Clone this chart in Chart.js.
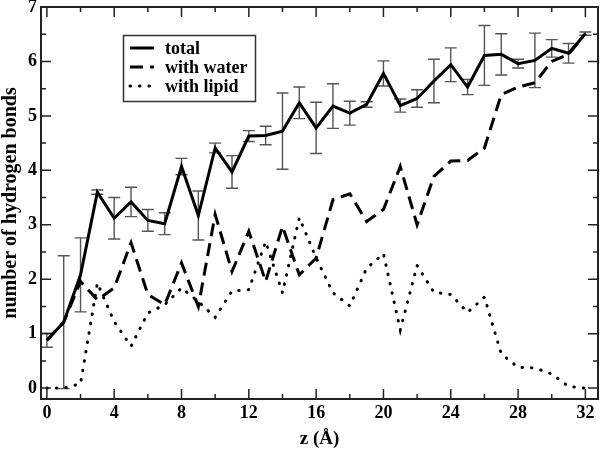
<!DOCTYPE html>
<html>
<head>
<meta charset="utf-8">
<script src="https://cdn.jsdelivr.net/npm/chart.js@4.4.0/dist/chart.umd.min.js"></script>
<style>
  html, body { margin: 0; padding: 0; background: #fff; }
  canvas { display: block; }
</style>
</head>
<body>
<canvas id="hbond-chart" width="600" height="449"></canvas>
<script>
// z positions (Å)
const zValues = [0, 1, 2, 3, 4, 5, 6, 7, 8, 9, 10, 11, 12, 13, 14, 15, 16,
    17, 18, 19, 20, 21, 22, 23, 24, 25, 26, 27, 28, 29, 30, 31, 32];

// total hydrogen bonds and its error bar half-width
const totalBonds = [0.88, 1.21, 2.08, 3.6, 3.12, 3.42, 3.08, 3.02, 4.07, 3.17, 4.41,
    3.97, 4.63, 4.64, 4.72, 5.24, 4.78, 5.18, 5.05, 5.21, 5.78, 5.19, 5.32, 5.64,
    5.94, 5.53, 6.11, 6.13, 5.96, 6.02, 6.24, 6.15, 6.51];
const totalErr = [0.13, 1.22, 0.68, 0.04, 0.38, 0.27, 0.2, 0.2, 0.15, 0.45, 0.09,
    0.3, 0.1, 0.17, 0.7, 0.29, 0.47, 0.41, 0.22, 0.05, 0.23, 0.12, 0.16, 0.4,
    0.31, 0.14, 0.55, 0.38, 0.08, 0.5, 0.16, 0.18, 0.03];

// bonds with water
const waterBonds = [0.88, 1.21, 1.96, 1.62, 1.84, 2.67, 1.72, 1.53, 2.3, 1.5, 3.19,
    2.14, 2.88, 1.96, 2.97, 2.08, 2.39, 3.46, 3.57, 3.06, 3.28, 4.07, 3.0, 3.89,
    4.17, 4.18, 4.41, 5.39, 5.53, 5.61, 6.0, 6.13, 6.51];

// bonds with lipid
const lipidBonds = [0, 0, 0.08, 1.93, 1.22, 0.77, 1.38, 1.53, 1.84, 1.59, 1.3,
    1.78, 1.81, 2.69, 1.75, 3.13, 2.39, 1.75, 1.51, 2.2, 2.47, 1.07, 2.25, 1.76,
    1.72, 1.39, 1.67, 0.63, 0.38, 0.37, 0.26, 0.03, 0];

// axis ticks
const xTickValues = [0, 4, 8, 12, 16, 20, 24, 28, 32];
const xMinorTicks = [2, 6, 10, 14, 18, 22, 26, 30];
const yTickValues = [0, 1, 2, 3, 4, 5, 6, 7];
const yMinorTicks = [0.5, 1.5, 2.5, 3.5, 4.5, 5.5, 6.5];

const serif = '"Liberation Serif", "Times New Roman", serif';

const toPoints = (values) => values.map((v, i) => ({ x: zValues[i], y: v }));

// error bars on the total series
const errorBars = {
    id: "errorBars",
    beforeDatasetsDraw(chart) {
        const { ctx, scales: { x, y } } = chart;
        ctx.save();
        ctx.strokeStyle = "#555";
        ctx.lineWidth = 1.4;
        ctx.beginPath();
        zValues.forEach((z, i) => {
            const px = x.getPixelForValue(z);
            const top = y.getPixelForValue(totalBonds[i] + totalErr[i]);
            const bot = y.getPixelForValue(totalBonds[i] - totalErr[i]);
            ctx.moveTo(px, top);
            ctx.lineTo(px, bot);
            ctx.moveTo(px - 6, top);
            ctx.lineTo(px + 6, top);
            ctx.moveTo(px - 6, bot);
            ctx.lineTo(px + 6, bot);
        });
        ctx.stroke();
        ctx.restore();
    }
};

// box around the plot with inward ticks on every side
const frameTicks = {
    id: "frameTicks",
    afterDatasetsDraw(chart) {
        const { ctx, chartArea: a, scales: { x, y } } = chart;
        ctx.save();
        ctx.strokeStyle = "#222";
        ctx.lineWidth = 1.5;
        ctx.beginPath();
        const xMark = (v, len) => {
            const px = x.getPixelForValue(v);
            ctx.moveTo(px, a.bottom);
            ctx.lineTo(px, a.bottom - len);
            ctx.moveTo(px, a.top);
            ctx.lineTo(px, a.top + len);
        };
        const yMark = (v, len) => {
            const py = y.getPixelForValue(v);
            ctx.moveTo(a.left, py);
            ctx.lineTo(a.left + len, py);
            ctx.moveTo(a.right, py);
            ctx.lineTo(a.right - len, py);
        };
        xTickValues.forEach(v => xMark(v, 10));
        xMinorTicks.forEach(v => xMark(v, 5));
        yTickValues.forEach(v => yMark(v, 10));
        yMinorTicks.forEach(v => yMark(v, 5));
        ctx.stroke();
        ctx.lineWidth = 2;
        ctx.strokeRect(a.left, a.top, a.right - a.left, a.bottom - a.top);
        ctx.restore();
    }
};

// legend box in the upper left, like the original figure
const boxLegend = {
    id: "boxLegend",
    afterDraw(chart) {
        const { ctx } = chart;
        ctx.save();
        ctx.strokeStyle = "#333";
        ctx.lineWidth = 1.5;
        ctx.strokeRect(123.5, 35.5, 132, 66);
        ctx.font = "bold 18px " + serif;
        ctx.fillStyle = "#000";
        ctx.textBaseline = "middle";
        chart.data.datasets.forEach((ds, i) => {
            const rowY = 48 + i * 19;
            ctx.beginPath();
            ctx.strokeStyle = "#000";
            ctx.lineWidth = ds.borderWidth;
            ctx.lineCap = ds.borderCapStyle || "butt";
            ctx.setLineDash(ds.borderDash || []);
            ctx.moveTo(130, rowY);
            ctx.lineTo(154, rowY);
            ctx.stroke();
            ctx.setLineDash([]);
            ctx.fillText(ds.label, 165, rowY + 1);
        });
        ctx.restore();
    }
};

const chart = new Chart(document.getElementById("hbond-chart"), {
    type: "line",
    data: {
        datasets: [
            {
                label: "total",
                data: toPoints(totalBonds),
                borderColor: "#000",
                borderWidth: 3,
                pointRadius: 0,
                tension: 0,
            },
            {
                label: "with water",
                data: toPoints(waterBonds),
                borderColor: "#000",
                borderWidth: 3,
                borderDash: [13, 7],
                pointRadius: 0,
                tension: 0,
            },
            {
                label: "with lipid",
                data: toPoints(lipidBonds),
                borderColor: "#000",
                borderWidth: 3,
                borderDash: [0.5, 9],
                borderCapStyle: "round",
                pointRadius: 0,
                tension: 0,
            },
        ],
    },
    options: {
        responsive: false,
        animation: false,
        layout: { padding: { left: 0, right: 2, top: 7, bottom: 0 } },
        plugins: {
            legend: { display: false },
            tooltip: { enabled: false },
        },
        scales: {
            x: {
                type: "linear",
                min: -0.35,
                max: 32.75,
                grid: { display: false, drawTicks: false },
                border: { display: false },
                ticks: {
                    color: "#000",
                    font: { family: serif, size: 18, weight: "bold" },
                    padding: 4,
                    maxRotation: 0,
                    autoSkip: false,
                },
                title: {
                    display: true,
                    text: "z (Å)",
                    color: "#000",
                    font: { family: serif, size: 19, weight: "bold", lineHeight: 1 },
                    padding: { top: 0, bottom: 0 },
                },
                afterBuildTicks(scale) {
                    scale.ticks = xTickValues.map(v => ({ value: v }));
                },
                afterFit(scale) {
                    scale.height = 50;
                    scale.paddingLeft = 0;
                    scale.paddingRight = 0;
                },
            },
            y: {
                min: -0.2,
                max: 7,
                grid: { display: false, drawTicks: false },
                border: { display: false },
                ticks: {
                    color: "#000",
                    font: { family: serif, size: 18, weight: "bold" },
                    padding: 4,
                },
                title: {
                    display: true,
                    text: "number of hydrogen bonds",
                    color: "#000",
                    font: { family: serif, size: 20, weight: "bold", lineHeight: 1.1 },
                    padding: { top: 0, bottom: 0 },
                },
                afterBuildTicks(scale) {
                    scale.ticks = yTickValues.map(v => ({ value: v }));
                },
                afterFit(scale) {
                    scale.width = 41;
                    scale.paddingTop = 0;
                    scale.paddingBottom = 0;
                },
            },
        },
    },
    plugins: [errorBars, frameTicks, boxLegend],
});
</script>
</body>
</html>
